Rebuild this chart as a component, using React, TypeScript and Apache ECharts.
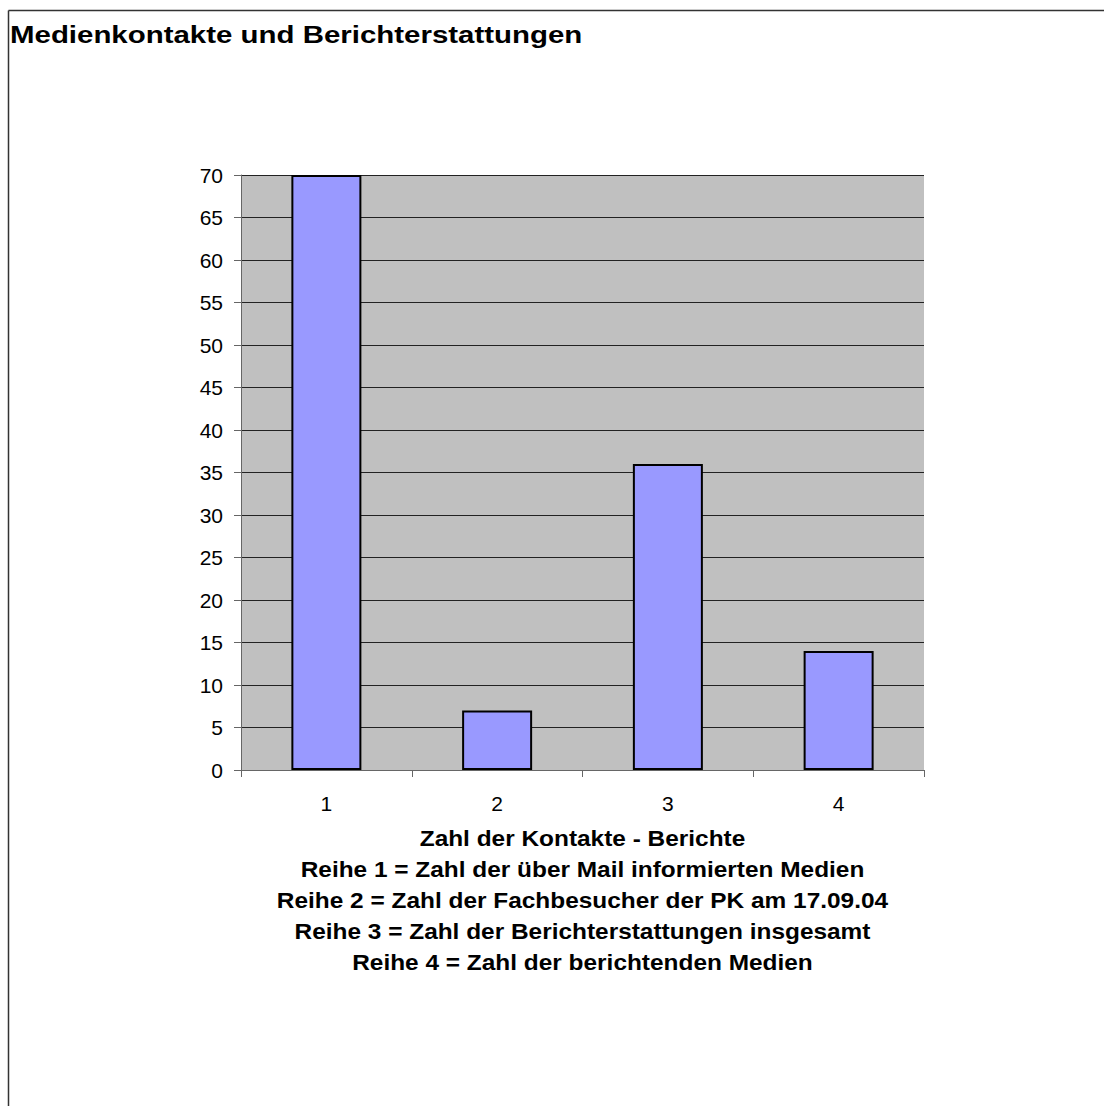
import React, { useEffect, useRef } from "react";
import * as echarts from "echarts";

const categories = ["1", "2", "3", "4"];
const values = [70, 7, 36, 14];
const yTicks = { min: 0, max: 70, interval: 5 };
const titleText = "Medienkontakte und Berichterstattungen";
const axisTitleLines = [
  "Zahl der Kontakte - Berichte",
  "Reihe 1 = Zahl der über Mail informierten Medien",
  "Reihe 2 = Zahl der Fachbesucher der PK am 17.09.04",
  "Reihe 3 = Zahl der Berichterstattungen insgesamt",
  "Reihe 4 = Zahl der berichtenden Medien",
];

const FONT = "'Liberation Sans', Arial, Helvetica, sans-serif";

const GRID = { left: 241, top: 175, width: 683, height: 595 };

export default function App() {
  const ref = useRef<HTMLDivElement>(null);

  useEffect(() => {
    document.body.style.margin = "0";
    const chart = echarts.init(ref.current!, undefined, { renderer: "svg" });

    const centerX = GRID.left + GRID.width / 2;
    // Multi-line caption under the category axis, slightly widened type
    const captionTexts = axisTitleLines.map((line, i) => ({
      type: "text",
      x: centerX,
      y: 838.5 + i * 31,
      scaleX: 1.11,
      style: {
        text: line,
        fontFamily: FONT,
        fontWeight: "bold",
        fontSize: 22,
        fill: "#000",
        textAlign: "center",
        textVerticalAlign: "middle",
      },
    }));

    chart.setOption({
      animation: false,
      backgroundColor: "#ffffff",
      graphic: [
        {
          type: "line",
          shape: { x1: 8.5, y1: 10.5, x2: 1104, y2: 10.5 },
          style: { stroke: "#333", lineWidth: 1.5 },
        },
        {
          type: "line",
          shape: { x1: 8.5, y1: 10.5, x2: 8.5, y2: 1106 },
          style: { stroke: "#333", lineWidth: 1.5 },
        },
        {
          type: "text",
          x: 10,
          y: 35,
          scaleX: 1.28,
          style: {
            text: titleText,
            fontFamily: FONT,
            fontWeight: "bold",
            fontSize: 23,
            fill: "#000",
            textAlign: "left",
            textVerticalAlign: "middle",
          },
        },
        ...captionTexts,
      ],
      grid: {
        ...GRID,
        show: true,
        backgroundColor: "#C0C0C0",
        borderWidth: 0,
      },
      xAxis: {
        type: "category",
        data: categories,
        boundaryGap: true,
        axisLine: { show: true, lineStyle: { color: "#666", width: 1 } },
        axisTick: {
          show: true,
          alignWithLabel: false,
          length: 7,
          lineStyle: { color: "#666" },
        },
        axisLabel: {
          fontFamily: FONT,
          fontSize: 21,
          color: "#000",
          margin: 23,
        },
      },
      yAxis: {
        type: "value",
        min: yTicks.min,
        max: yTicks.max,
        interval: yTicks.interval,
        axisLine: { show: true, lineStyle: { color: "#666", width: 1 } },
        axisTick: { show: true, length: 7, lineStyle: { color: "#666" } },
        axisLabel: {
          fontFamily: FONT,
          fontSize: 21,
          color: "#000",
          margin: 18,
        },
        splitLine: { show: true, lineStyle: { color: "#222", width: 1 } },
      },
      series: [
        {
          type: "bar",
          data: values,
          barCategoryGap: "59%",
          itemStyle: {
            color: "#9999FF",
            borderColor: "#000",
            borderWidth: 2,
          },
        },
      ],
    });
    return () => chart.dispose();
  }, []);

  return (
    <div
      ref={ref}
      style={{ position: "absolute", left: 0, top: 0, width: 1104, height: 1106 }}
    />
  );
}
